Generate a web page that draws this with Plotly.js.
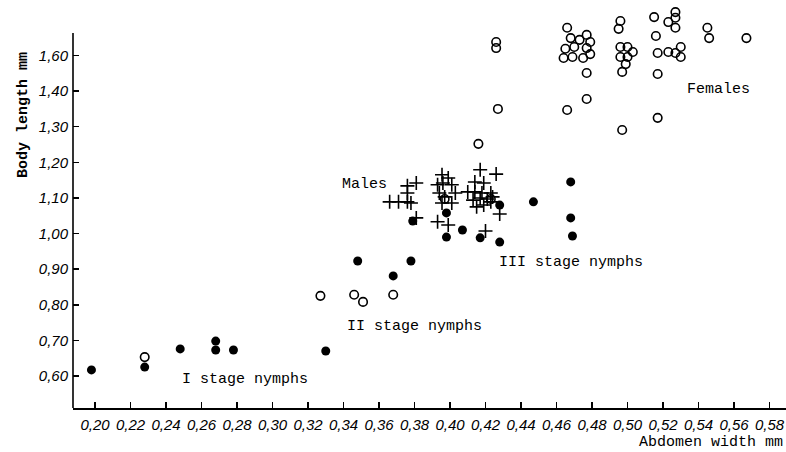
<!DOCTYPE html>
<html>
<head>
<meta charset="utf-8">
<script src="https://cdn.plot.ly/plotly-3.0.1.min.js"></script>
<style>html,body{margin:0;padding:0;background:#fff;}#chart{width:786px;height:452px;}</style>
</head>
<body>
<div id="chart"></div>
<script>
// Abdomen width (mm) on x, body length on y (y in drawn-axis units; the top tick is labelled 1,60)
var nymphFilledX = [0.198,0.228,0.248,0.268,0.268,0.278,0.330,0.348,0.368,0.378,0.379,0.398,0.398,0.407,0.417,0.428,0.428,0.447,0.468,0.468,0.469];
var nymphFilledY = [0.617,0.625,0.676,0.698,0.673,0.673,0.670,0.923,0.881,0.923,1.035,1.058,0.990,1.010,0.988,1.080,0.976,1.089,1.145,1.044,0.993];

var nymphOpenX = [0.228,0.327,0.346,0.351,0.368,0.416,0.397,0.423];
var nymphOpenY = [0.653,0.825,0.828,0.808,0.828,1.252,1.097,1.097];

var femaleX = [0.427,0.426,0.426,0.466,0.468,0.473,0.477,0.479,0.465,0.470,0.477,0.464,0.469,0.475,0.479,0.477,0.466,0.477,
               0.496,0.495,0.496,0.500,0.503,0.496,0.500,0.499,0.497,0.497,
               0.515,0.516,0.517,0.517,0.517,0.523,0.527,0.527,0.527,0.523,0.527,0.530,0.530,0.545,0.546,0.567];
var femaleY = [1.350,1.521,1.538,1.578,1.549,1.544,1.558,1.538,1.519,1.524,1.521,1.493,1.496,1.493,1.504,1.451,1.347,1.378,
               1.597,1.575,1.524,1.524,1.510,1.496,1.496,1.476,1.454,1.291,
               1.608,1.555,1.507,1.448,1.325,1.594,1.622,1.606,1.578,1.510,1.507,1.524,1.496,1.578,1.549,1.549];

var maleX = [0.366,0.371,0.376,0.376,0.381,0.376,0.378,0.381,
             0.3955,0.399,0.393,0.396,0.401,0.394,0.397,0.403,0.3955,0.401,0.393,0.399,
             0.417,0.426,0.414,0.419,0.410,0.414,0.418,0.423,0.413,0.417,0.421,0.424,0.415,0.419,0.423,0.428,0.420];
var maleY = [1.089,1.089,1.089,1.134,1.142,1.114,1.086,1.044,
             1.165,1.156,1.137,1.142,1.137,1.114,1.103,1.114,1.086,1.086,1.033,1.024,
             1.179,1.167,1.145,1.142,1.117,1.117,1.114,1.114,1.094,1.100,1.097,1.103,1.075,1.080,1.089,1.055,1.007];

var xTickVals = [0.20,0.22,0.24,0.26,0.28,0.30,0.32,0.34,0.36,0.38,0.40,0.42,0.44,0.46,0.48,0.50,0.52,0.54,0.56,0.58];
var xTickText = ['0,20','0,22','0,24','0,26','0,28','0,30','0,32','0,34','0,36','0,38','0,40','0,42','0,44','0,46','0,48','0,50','0,52','0,54','0,56','0,58'];
var yTickVals = [0.6,0.7,0.8,0.9,1.0,1.1,1.2,1.3,1.4,1.5];
var yTickText = ['0,60','0,70','0,80','0,90','1,00','1,10','1,20','1,30','1,40','1,60'];

var groupLabels = ['I stage nymphs','II stage nymphs','III stage nymphs','Males','Females'];
var groupLabelX = [0.2479,0.3408,0.4265,0.338,0.5324];
var groupLabelY = [0.589,0.7376,0.9174,1.1365,1.4034];

var mono = 'Liberation Mono, Courier New, monospace';

var traces = [
  {x: nymphFilledX, y: nymphFilledY, type:'scatter', mode:'markers', name:'Nymphs',
   marker:{symbol:'circle', size:9, color:'#000'}, cliponaxis:false},
  {x: nymphOpenX, y: nymphOpenY, type:'scatter', mode:'markers', name:'Nymphs (open)',
   marker:{symbol:'circle-open', size:8.5, color:'#000', line:{width:1.6, color:'#000'}}, cliponaxis:false},
  {x: femaleX, y: femaleY, type:'scatter', mode:'markers', name:'Females',
   marker:{symbol:'circle-open', size:8.5, color:'#000', line:{width:1.6, color:'#000'}}, cliponaxis:false},
  {x: maleX, y: maleY, type:'scatter', mode:'markers', name:'Males',
   marker:{symbol:'cross-thin', size:10, color:'#000', line:{width:1.6, color:'#000'}}, cliponaxis:false}
];

var annotations = groupLabels.map(function(t,i){
  return {x: groupLabelX[i], y: groupLabelY[i], xref:'x', yref:'y', text:t, showarrow:false,
          xanchor:'left', yanchor:'middle', font:{family:mono, size:15, color:'#000'}};
});
annotations.push({x:(637-73)/713, y:(408-443)/408, xref:'paper', yref:'paper', text:'Abdomen width mm',
  showarrow:false, xanchor:'left', yanchor:'middle', font:{family:mono, size:15, color:'#000'}});
annotations.push({x:(23-73)/713, y:(408-115)/408, xref:'paper', yref:'paper', text:'<b>Body length mm</b>',
  showarrow:false, textangle:-90, xanchor:'center', yanchor:'middle', font:{family:mono, size:15, color:'#000'}});

var layout = {
  width:786, height:452,
  margin:{l:73, r:0, t:0, b:44, pad:0},
  paper_bgcolor:'#fff', plot_bgcolor:'#fff',
  showlegend:false,
  xaxis:{range:[0.1876,0.5893], showgrid:false, zeroline:false, showline:true, linecolor:'#000', linewidth:1.6,
         ticks:'inside', ticklen:6, tickwidth:1.5, tickcolor:'#000',
         tickmode:'array', tickvals:xTickVals, ticktext:xTickText, ticklabelstandoff:2,
         tickfont:{family:'Liberation Sans, Arial, sans-serif', size:15, style:'italic', color:'#000'}},
  yaxis:{range:[0.51,1.656], showgrid:false, zeroline:false, showline:false,
         ticks:'inside', ticklen:6, tickwidth:1.5, tickcolor:'#000',
         tickmode:'array', tickvals:yTickVals, ticktext:yTickText, ticklabelstandoff:4,
         tickfont:{family:'Liberation Sans, Arial, sans-serif', size:15, style:'italic', color:'#000'}},
  shapes:[{type:'line', xref:'paper', yref:'y', x0:0, x1:0, y0:0.51, y1:1.563, line:{color:'#000', width:1.6}}],
  annotations: annotations
};

Plotly.newPlot('chart', traces, layout, {displayModeBar:false, staticPlot:true});
</script>
</body>
</html>
